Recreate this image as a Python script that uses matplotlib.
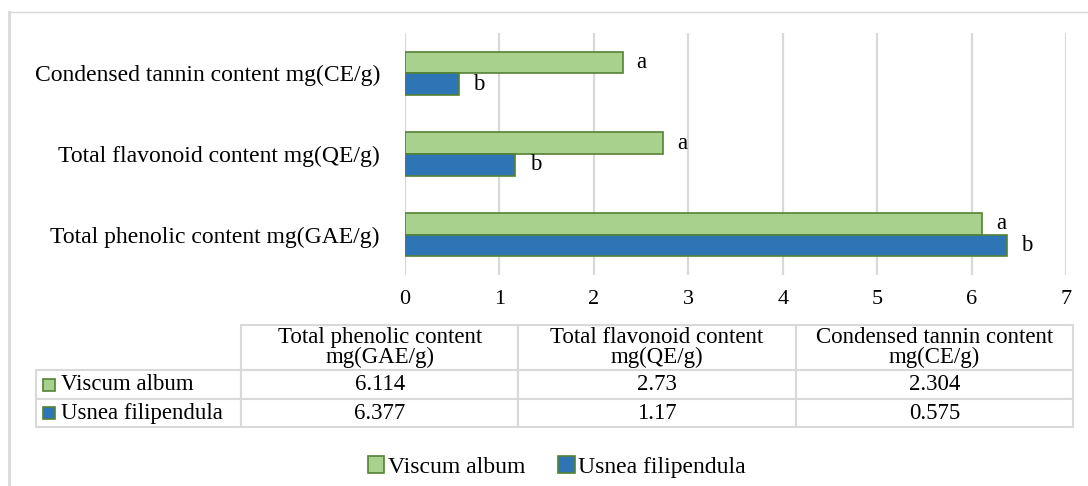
import matplotlib.pyplot as plt
from matplotlib.patches import Rectangle
from matplotlib.lines import Line2D
from matplotlib.table import Table

plt.rcParams['font.family'] = ['Liberation Serif', 'DejaVu Serif']

# data
categories = ['Total phenolic content mg(GAE/g)',
              'Total flavonoid content mg(QE/g)',
              'Condensed tannin content mg(CE/g)']
series = ['Viscum album', 'Usnea filipendula']
viscum = [6.114, 2.73, 2.304]
usnea = [6.377, 1.17, 0.575]
viscum_txt = ['6.114', '2.73', '2.304']
usnea_txt = ['6.377', '1.17', '0.575']
viscum_sig = ['a', 'a', 'a']
usnea_sig = ['b', 'b', 'b']
xticks = [0, 1, 2, 3, 4, 5, 6, 7]

green = '#A9D18E'
blue = '#2E75B6'
edge = '#548235'
grid = '#D9D9D9'

W, H = 1088, 486
fig = plt.figure(figsize=(W / 100, H / 100), dpi=100)

# outer chart border (light gray)
fig.add_artist(Line2D([9 / W, 9 / W], [0, 1 - 12 / H], color=grid, lw=2))
fig.add_artist(Line2D([9 / W, 1], [1 - 12 / H, 1 - 12 / H], color=grid, lw=1))

# bar chart
ax = fig.add_axes([405 / W, 1 - 275 / H, (1066 - 405) / W, (275 - 33) / H])
h = 0.267
ys = list(range(len(categories)))
ax.barh([y + h / 2 for y in ys], viscum, height=h, color=green,
        edgecolor=edge, linewidth=1.2, zorder=3, label=series[0])
ax.barh([y - h / 2 for y in ys], usnea, height=h, color=blue,
        edgecolor=edge, linewidth=1.2, zorder=3, label=series[1])

for y, v, s in zip(ys, viscum, viscum_sig):
    ax.text(v + 0.15, y + h / 2, s, va='center', ha='left', fontsize=16.5)
for y, v, s in zip(ys, usnea, usnea_sig):
    ax.text(v + 0.15, y - h / 2, s, va='center', ha='left', fontsize=16.5)

ax.set_xlim(0, 7)
ax.set_ylim(-0.5, 2.5)
ax.set_xticks(xticks)
ax.set_yticks(ys)
ax.set_yticklabels(categories, fontsize=17)
ax.tick_params(axis='x', labelsize=16, length=0, pad=11)
ax.tick_params(axis='y', length=0, pad=18)
ax.grid(axis='x', color=grid, linewidth=1.6, zorder=0)
for sp in ax.spines.values():
    sp.set_visible(False)

# data table under the chart
tax = fig.add_axes([36 / W, 1 - 427 / H, (1073 - 36) / W, (427 - 325) / H])
tax.set_xlim(0, 1)
tax.set_ylim(0, 1)
tax.axis('off')
label_w = 205 / 1037
col_w = 277 / 1037
row_h = [45 / 102, 29 / 102, 28 / 102]

tb = Table(tax, bbox=[0, 0, 1, 1])
for j, c in enumerate(categories):
    cell = tb.add_cell(0, j + 1, col_w, row_h[0],
                       text=c.replace(' mg(', '\nmg('), loc='center')
    cell.get_text().set_linespacing(0.95)
for i, (name, vals) in enumerate(zip(series, [viscum_txt, usnea_txt])):
    cell = tb.add_cell(i + 1, 0, label_w, row_h[i + 1], text=name, loc='left')
    cell.PAD = 25 / 205
    for j, t in enumerate(vals):
        tb.add_cell(i + 1, j + 1, col_w, row_h[i + 1], text=t, loc='center')
tb.auto_set_font_size(False)
tb.set_fontsize(16.5)
for cell in tb.get_celld().values():
    cell.set_edgecolor(grid)
    cell.set_linewidth(1.5)
tax.add_table(tb)

# legend keys inside the table row labels
key = 12 / 1037
key_h = 12 / 102
for cy, col in zip([(427 - 384.5) / 102, (427 - 413) / 102], [green, blue]):
    tax.add_patch(Rectangle((7 / 1037, cy - key_h / 2), key, key_h,
                            facecolor=col, edgecolor=edge, lw=1.2, zorder=5))

# legend at the bottom
fig.legend(loc='center', bbox_to_anchor=(557 / W, 1 - 467 / H), ncol=2,
           frameon=False, fontsize=17, handlelength=0.7, handleheight=0.7,
           handletextpad=0.15, columnspacing=1.4)

fig.savefig('out.png', dpi=100)
